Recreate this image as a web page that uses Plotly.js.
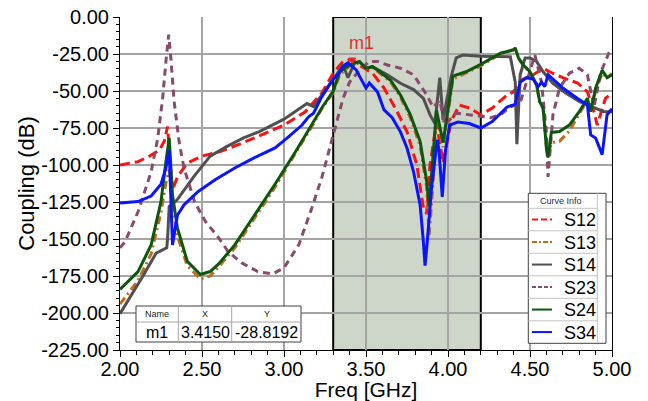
<!DOCTYPE html>
<html>
<head>
<meta charset="utf-8">
<script src="https://cdn.plot.ly/plotly-3.0.1.min.js"></script>
<style>html,body{margin:0;padding:0;background:#fff;}#chart{width:648px;height:401px;}</style>
</head>
<body>
<div id="chart"></div>
<script>
// ---------- data ----------
const seriesNames = ['S12', 'S13', 'S14', 'S23', 'S24', 'S34'];

const freqS12 = [2.00, 2.11, 2.18, 2.24, 2.27, 2.29, 2.31, 2.32, 2.35, 2.41, 2.50, 2.61, 2.75, 2.90, 3.00, 3.13, 3.23, 3.30, 3.36, 3.415, 3.48, 3.54, 3.61, 3.69, 3.75, 3.81, 3.85, 3.87, 3.89, 3.93, 3.97, 4.02, 4.07, 4.13, 4.20, 4.27, 4.36, 4.40, 4.44, 4.52, 4.58, 4.62, 4.70, 4.79, 4.85, 4.89, 4.91, 4.96, 5.00];
const dbS12   = [-100, -97.7, -94, -90, -84, -74, -104, -117, -108, -98.7, -94, -91, -85, -78, -73, -64, -51.5, -38, -30, -28.8, -34, -38, -48, -64, -77.6, -100, -129, -133, -100, -71.6, -98.6, -70, -59.5, -61.5, -66, -61.5, -52.7, -50.6, -43, -39, -34.7, -37, -41, -44.6, -50.6, -64, -73, -55, -51.5];

const freqS13 = [2.00, 2.11, 2.19, 2.25, 2.28, 2.30, 2.32, 2.35, 2.41, 2.49, 2.55, 2.60, 2.70, 2.82, 2.945, 3.07, 3.17, 3.23, 3.30, 3.34, 3.40, 3.46, 3.50, 3.54, 3.585, 3.65, 3.71, 3.77, 3.83, 3.87, 3.885, 3.91, 3.93, 3.97, 4.03, 4.11, 4.20, 4.32, 4.40, 4.41, 4.43, 4.46, 4.50, 4.54, 4.56, 4.58, 4.60, 4.61, 4.63, 4.68, 4.74, 4.80, 4.85, 4.87, 4.90, 4.94, 4.97, 5.00];
const dbS13   = [-194, -178, -160, -132, -112, -103, -126, -148, -168, -177, -175, -169, -156, -136, -115, -92, -74, -62, -51, -39, -33, -31, -35, -34, -38, -44, -54, -68, -87, -115, -148, -110, -65, -88, -42, -38, -33, -25, -22, -21.5, -28, -33, -37, -46, -58, -62, -88, -94, -85, -84, -77, -66, -56, -63, -50, -38, -41, -38];

const freqS14 = [2.00, 2.07, 2.14, 2.22, 2.285, 2.29, 2.30, 2.345, 2.45, 2.55, 2.65, 2.75, 2.85, 3.00, 3.14, 3.18, 3.24, 3.32, 3.36, 3.39, 3.43, 3.46, 3.50, 3.54, 3.63, 3.71, 3.79, 3.85, 3.89, 3.92, 3.95, 3.97, 4.02, 4.05, 4.09, 4.20, 4.38, 4.41, 4.42, 4.44, 4.47, 4.50, 4.54, 4.58, 4.64, 4.72, 4.80, 4.85, 4.90, 4.95, 5.00];
const dbS14   = [-200.5, -188, -175, -159.6, -156, -150, -128, -124, -107.8, -94, -87.6, -81.8, -77.4, -69, -58.5, -60.5, -51.5, -39, -32.4, -41, -31, -30, -34.6, -33.6, -39, -44.8, -49, -55, -66, -72, -41, -69.5, -40, -27.6, -25.7, -26.5, -26.8, -44, -86, -39, -27.7, -27.7, -30, -37, -44.8, -51.5, -57, -59.4, -62, -64, -64];

const freqS23 = [2.00, 2.03, 2.11, 2.19, 2.23, 2.26, 2.28, 2.297, 2.31, 2.33, 2.36, 2.39, 2.455, 2.52, 2.60, 2.66, 2.74, 2.84, 2.93, 3.00, 3.09, 3.17, 3.23, 3.28, 3.32, 3.36, 3.40, 3.46, 3.52, 3.57, 3.63, 3.71, 3.79, 3.83, 3.87, 3.91, 3.95, 3.98, 4.05, 4.20, 4.26, 4.32, 4.38, 4.44, 4.48, 4.53, 4.57, 4.60, 4.61, 4.64, 4.68, 4.74, 4.80, 4.85, 4.89, 4.93, 4.98, 5.00];
const dbS23   = [-156, -152, -131.6, -104.6, -82, -55, -30, -12, -27.7, -57, -84, -102, -125, -138, -149, -158.6, -166, -172, -173.6, -169.5, -154, -129, -108.7, -88.5, -73, -55, -44, -36, -30, -30, -32.4, -34.6, -39, -46, -52.7, -61, -56, -73, -65, -67, -68, -66, -60.8, -58, -44, -25.7, -44, -77.6, -108, -66, -48, -38, -34.6, -39, -61, -38, -24.5, -22];

const freqS24 = [2.00, 2.11, 2.19, 2.25, 2.28, 2.30, 2.32, 2.35, 2.41, 2.49, 2.55, 2.60, 2.70, 2.82, 2.945, 3.07, 3.17, 3.23, 3.30, 3.34, 3.40, 3.46, 3.50, 3.54, 3.585, 3.65, 3.71, 3.77, 3.83, 3.87, 3.885, 3.91, 3.93, 3.97, 4.03, 4.11, 4.20, 4.32, 4.40, 4.41, 4.43, 4.46, 4.50, 4.54, 4.56, 4.58, 4.60, 4.61, 4.63, 4.68, 4.74, 4.80, 4.85, 4.87, 4.90, 4.94, 4.97, 5.00];
const dbS24   = [-184, -172, -154, -124.7, -97.7, -81.7, -120, -142.5, -165, -174, -172, -167, -154, -134, -113, -91, -73, -61.5, -50, -37, -32.4, -30.2, -34.6, -33.6, -37, -42.7, -52.7, -66, -84, -111, -128, -95, -63, -85, -40, -37, -32, -24.5, -22.3, -21, -27.7, -32.4, -37, -46, -57.4, -61.5, -88.5, -95, -78, -77.4, -73, -64, -55, -64, -48, -36, -41, -39];

const freqS34 = [2.00, 2.11, 2.19, 2.25, 2.28, 2.30, 2.32, 2.35, 2.39, 2.475, 2.58, 2.70, 2.82, 2.945, 3.02, 3.11, 3.15, 3.18, 3.23, 3.30, 3.32, 3.37, 3.39, 3.44, 3.48, 3.50, 3.52, 3.57, 3.61, 3.66, 3.71, 3.75, 3.79, 3.83, 3.85, 3.86, 3.875, 3.90, 3.935, 3.945, 3.965, 3.985, 4.01, 4.06, 4.13, 4.20, 4.27, 4.36, 4.41, 4.44, 4.48, 4.52, 4.55, 4.57, 4.59, 4.61, 4.64, 4.70, 4.79, 4.85, 4.87, 4.90, 4.94, 4.97, 5.00];
const dbS34   = [-125.6, -124.7, -121, -113, -102, -90, -154, -134, -127, -118, -110, -102, -95, -88.5, -81.7, -73, -67.5, -65, -54, -42, -40, -32.4, -31, -35.7, -44, -48, -44.6, -50.6, -62.8, -68, -77.6, -88.5, -104.6, -127, -152, -168, -150, -115, -83, -90, -121.5, -90, -73, -71, -72, -75, -70.6, -60.8, -59, -44, -41, -42, -47, -44, -47, -39, -42, -48, -55, -59.4, -79.7, -81.7, -93, -66, -62];

const markerName = 'm1';
const markerFreq = [3.415];
const markerDb = [-28.8192];

const bandFreq = [3.3, 4.2];

const yTickVals = [0, -25, -50, -75, -100, -125, -150, -175, -200, -225];
const yTickText = ['0.00', '-25.00', '-50.00', '-75.00', '-100.00', '-125.00', '-150.00', '-175.00', '-200.00', '-225.00'];
const xTickVals = [2.0, 2.5, 3.0, 3.5, 4.0, 4.5, 5.0];
const xTickText = ['2.00', '2.50', '3.00', '3.50', '4.00', '4.50', '5.00'];

const tableHeaders = ['Name', 'X', 'Y'];

// ---------- styles ----------
const FONT = 'Liberation Sans, Arial, sans-serif';
const styles = {
  S12: {color: '#ff1010', dash: '10px,5px'},
  S13: {color: '#c06a1e', dash: '8px,4px,2px,4px'},
  S14: {color: '#505050', dash: 'solid'},
  S23: {color: '#8a4a6e', dash: '7px,5px'},
  S24: {color: '#0d570d', dash: 'solid'},
  S34: {color: '#0a14ff', dash: 'solid'}
};
const seriesData = {
  S12: [freqS12, dbS12], S13: [freqS13, dbS13], S14: [freqS14, dbS14],
  S23: [freqS23, dbS23], S24: [freqS24, dbS24], S34: [freqS34, dbS34]
};

const traces = seriesNames.map(n => ({
  type: 'scatter', mode: 'lines', name: n,
  x: seriesData[n][0], y: seriesData[n][1],
  line: {color: styles[n].color, width: 3, dash: styles[n].dash},
  showlegend: false, hoverinfo: 'x+y+name'
}));
traces.push({
  type: 'scatter', mode: 'markers', name: markerName,
  x: markerFreq, y: markerDb,
  marker: {symbol: 'triangle-down-open', size: 6, color: '#e03030', line: {width: 1.5, color: '#e03030'}},
  showlegend: false
});

// pixel helpers for overlay boxes (plot area: x 120..612, y 17..350)
const L = 120, R = 612, T = 17, B = 350;
const px = x => (x - L) / (R - L);
const py = y => (B - y) / (B - T);

const shapes = [];
const annotations = [];

// shaded band
shapes.push({type: 'rect', xref: 'x', yref: 'y', x0: bandFreq[0], x1: bandFreq[1], y0: -225, y1: 0,
  fillcolor: '#ced6ca', line: {color: '#000', width: 2}, layer: 'below'});

// marker label
annotations.push({x: markerFreq[0], y: markerDb[0], xref: 'x', yref: 'y', text: markerName, showarrow: false,
  xshift: 9, yshift: 17, font: {family: FONT, size: 18, color: '#e0302a'}});

// marker table
const tb = {x0: 136, x1: 301, y0: 306, ym: 322, y1: 342, c1: 178.3, c2: 231.7};
shapes.push({type: 'rect', xref: 'paper', yref: 'paper', x0: px(tb.x0), x1: px(tb.x1), y0: py(tb.y1), y1: py(tb.y0),
  fillcolor: '#fff', line: {color: '#404040', width: 1}, layer: 'above'});
[[tb.x0, tb.ym, tb.x1, tb.ym], [tb.c1, tb.y0, tb.c1, tb.y1], [tb.c2, tb.y0, tb.c2, tb.y1]].forEach(s => {
  shapes.push({type: 'line', xref: 'paper', yref: 'paper', x0: px(s[0]), x1: px(s[2]), y0: py(s[1]), y1: py(s[3]),
    line: {color: '#a8a8a8', width: 1}, layer: 'above'});
});
const colCenters = [157, 205, 266.5];
const rowVals = [markerName, markerFreq[0].toFixed(4), markerDb[0].toFixed(4)];
tableHeaders.forEach((h, i) => annotations.push({xref: 'paper', yref: 'paper', x: px(colCenters[i]), y: py(314),
  text: h, showarrow: false, xanchor: 'center', yanchor: 'middle', font: {family: FONT, size: 9, color: '#222'}}));
rowVals.forEach((v, i) => annotations.push({xref: 'paper', yref: 'paper', x: px(colCenters[i]), y: py(332.5),
  text: v, showarrow: false, xanchor: 'center', yanchor: 'middle', font: {family: FONT, size: 16, color: '#000'}}));

// legend table
const lg = {x0: 528.3, x1: 606, y0: 193.3, yh: 208.3, row: 22.5, vc: 597.3};
const lgY1 = lg.yh + lg.row * seriesNames.length;
shapes.push({type: 'rect', xref: 'paper', yref: 'paper', x0: px(lg.x0), x1: px(lg.x1), y0: py(lgY1), y1: py(lg.y0),
  fillcolor: '#fff', line: {color: '#404040', width: 1}, layer: 'above'});
shapes.push({type: 'line', xref: 'paper', yref: 'paper', x0: px(lg.vc), x1: px(lg.vc), y0: py(lgY1), y1: py(lg.y0),
  line: {color: '#c4c4c4', width: 1}, layer: 'above'});
annotations.push({xref: 'paper', yref: 'paper', x: px(561), y: py(200.7), text: 'Curve Info', showarrow: false,
  xanchor: 'center', yanchor: 'middle', font: {family: FONT, size: 9, color: '#2a2a50'}});
seriesNames.forEach((n, i) => {
  const top = lg.yh + lg.row * i;
  const mid = top + lg.row / 2;
  shapes.push({type: 'line', xref: 'paper', yref: 'paper', x0: px(lg.x0), x1: px(lg.vc), y0: py(top), y1: py(top),
    line: {color: '#c4c4c4', width: 1}, layer: 'above'});
  shapes.push({type: 'line', xref: 'paper', yref: 'paper', x0: px(532), x1: px(552), y0: py(mid), y1: py(mid),
    line: {color: styles[n].color, width: 2, dash: n === 'S12' ? '6px,3px' : (n === 'S13' ? '5px,2px,2px,2px' : (n === 'S23' ? '4px,2px' : 'solid'))}, layer: 'above'});
  annotations.push({xref: 'paper', yref: 'paper', x: px(562), y: py(mid + 0.5), text: n, showarrow: false,
    xanchor: 'left', yanchor: 'middle', font: {family: FONT, size: 18, color: '#000'}});
});

const layout = {
  width: 648, height: 401,
  margin: {l: L, r: 648 - R, t: T, b: 401 - B, pad: 0},
  paper_bgcolor: '#fff', plot_bgcolor: '#fff',
  font: {family: FONT, color: '#000'},
  showlegend: false,
  xaxis: {
    range: [2, 5], tickmode: 'array', tickvals: xTickVals, ticktext: xTickText,
    showgrid: true, gridcolor: '#a4a4a4', gridwidth: 1.5, zeroline: false,
    showline: true, linecolor: '#000', linewidth: 1, mirror: false,
    ticks: 'outside', ticklen: 6, tickcolor: '#000', tickwidth: 1,
    ticklabelstandoff: -5,
    minor: {tickmode: 'linear', tick0: 2, dtick: 0.1, ticks: 'outside', ticklen: 4, tickcolor: '#000', showgrid: false},
    tickfont: {family: FONT, size: 20, color: '#000'},
    title: {text: 'Freq [GHz]', font: {family: FONT, size: 21, color: '#000'}, standoff: 6}
  },
  yaxis: {
    range: [-225, 0], tickmode: 'array', tickvals: yTickVals, ticktext: yTickText,
    showgrid: true, gridcolor: '#a4a4a4', gridwidth: 1.5, zeroline: false,
    showline: true, linecolor: '#000', linewidth: 1, mirror: true,
    ticks: 'outside', ticklen: 6, tickcolor: '#000', tickwidth: 1,
    minor: {tickmode: 'linear', tick0: 0, dtick: 5, ticks: 'outside', ticklen: 3, tickcolor: '#000', showgrid: false},
    tickfont: {family: FONT, size: 20, color: '#000'},
    title: {text: 'Coupling (dB)', font: {family: FONT, size: 22, color: '#000'}, standoff: 0}
  },
  shapes: shapes,
  annotations: annotations
};

Plotly.newPlot('chart', traces, layout, {displayModeBar: false, staticPlot: true});
</script>
</body>
</html>
